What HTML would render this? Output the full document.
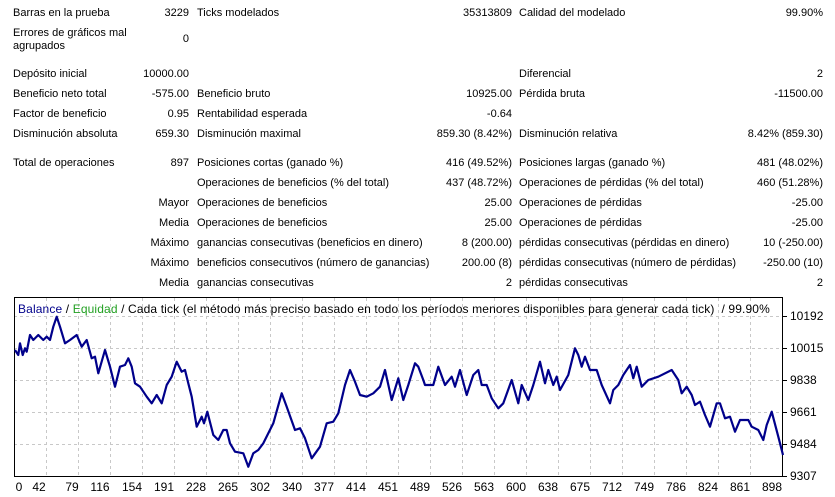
<!DOCTYPE html>
<html><head><meta charset="utf-8"><style>
body{margin:0;width:835px;height:497px;background:#fff;overflow:hidden;font-family:"Liberation Sans",sans-serif;font-size:11px;color:#000;position:relative}
.t{position:absolute;white-space:nowrap;line-height:13px}
.r{text-align:right}
</style></head><body>
<div class="t" style="left:13px;top:7px">Barras en la prueba</div>
<div class="t r" style="right:646px;top:7px">3229</div>
<div class="t" style="left:197px;top:7px">Ticks modelados</div>
<div class="t r" style="right:323px;top:7px">35313809</div>
<div class="t" style="left:519px;top:7px">Calidad del modelado</div>
<div class="t r" style="right:12px;top:7px">99.90%</div>

<div class="t" style="left:13px;top:27px">Errores de gráficos mal<br>agrupados</div>
<div class="t r" style="right:646px;top:33px">0</div>

<div class="t" style="left:13px;top:68px">Depósito inicial</div>
<div class="t r" style="right:646px;top:68px">10000.00</div>
<div class="t" style="left:519px;top:68px">Diferencial</div>
<div class="t r" style="right:12px;top:68px">2</div>

<div class="t" style="left:13px;top:88px">Beneficio neto total</div>
<div class="t r" style="right:646px;top:88px">-575.00</div>
<div class="t" style="left:197px;top:88px">Beneficio bruto</div>
<div class="t r" style="right:323px;top:88px">10925.00</div>
<div class="t" style="left:519px;top:88px">Pérdida bruta</div>
<div class="t r" style="right:12px;top:88px">-11500.00</div>

<div class="t" style="left:13px;top:108px">Factor de beneficio</div>
<div class="t r" style="right:646px;top:108px">0.95</div>
<div class="t" style="left:197px;top:108px">Rentabilidad esperada</div>
<div class="t r" style="right:323px;top:108px">-0.64</div>

<div class="t" style="left:13px;top:128px">Disminución absoluta</div>
<div class="t r" style="right:646px;top:128px">659.30</div>
<div class="t" style="left:197px;top:128px">Disminución maximal</div>
<div class="t r" style="right:323px;top:128px">859.30 (8.42%)</div>
<div class="t" style="left:519px;top:128px">Disminución relativa</div>
<div class="t r" style="right:12px;top:128px">8.42% (859.30)</div>

<div class="t" style="left:13px;top:157px">Total de operaciones</div>
<div class="t r" style="right:646px;top:157px">897</div>
<div class="t" style="left:197px;top:157px">Posiciones cortas (ganado %)</div>
<div class="t r" style="right:323px;top:157px">416 (49.52%)</div>
<div class="t" style="left:519px;top:157px">Posiciones largas (ganado %)</div>
<div class="t r" style="right:12px;top:157px">481 (48.02%)</div>

<div class="t" style="left:197px;top:177px">Operaciones de beneficios (% del total)</div>
<div class="t r" style="right:323px;top:177px">437 (48.72%)</div>
<div class="t" style="left:519px;top:177px">Operaciones de pérdidas (% del total)</div>
<div class="t r" style="right:12px;top:177px">460 (51.28%)</div>

<div class="t r" style="right:646px;top:197px">Mayor</div>
<div class="t" style="left:197px;top:197px">Operaciones de beneficios</div>
<div class="t r" style="right:323px;top:197px">25.00</div>
<div class="t" style="left:519px;top:197px">Operaciones de pérdidas</div>
<div class="t r" style="right:12px;top:197px">-25.00</div>

<div class="t r" style="right:646px;top:217px">Media</div>
<div class="t" style="left:197px;top:217px">Operaciones de beneficios</div>
<div class="t r" style="right:323px;top:217px">25.00</div>
<div class="t" style="left:519px;top:217px">Operaciones de pérdidas</div>
<div class="t r" style="right:12px;top:217px">-25.00</div>

<div class="t r" style="right:646px;top:237px">Máximo</div>
<div class="t" style="left:197px;top:237px">ganancias consecutivas (beneficios en dinero)</div>
<div class="t r" style="right:323px;top:237px">8 (200.00)</div>
<div class="t" style="left:519px;top:237px">pérdidas consecutivas (pérdidas en dinero)</div>
<div class="t r" style="right:12px;top:237px">10 (-250.00)</div>

<div class="t r" style="right:646px;top:257px">Máximo</div>
<div class="t" style="left:197px;top:257px">beneficios consecutivos (número de ganancias)</div>
<div class="t r" style="right:323px;top:257px">200.00 (8)</div>
<div class="t" style="left:519px;top:257px">pérdidas consecutivas (número de pérdidas)</div>
<div class="t r" style="right:12px;top:257px">-250.00 (10)</div>

<div class="t r" style="right:646px;top:277px">Media</div>
<div class="t" style="left:197px;top:277px">ganancias consecutivas</div>
<div class="t r" style="right:323px;top:277px">2</div>
<div class="t" style="left:519px;top:277px">pérdidas consecutivas</div>
<div class="t r" style="right:12px;top:277px">2</div>

<svg style="position:absolute;left:0;top:0" width="835" height="497">
<g stroke="#c8c8c8" stroke-dasharray="3,3" stroke-width="1">
<line x1="14" y1="316.5" x2="783" y2="316.5"/><line x1="14" y1="348.5" x2="783" y2="348.5"/><line x1="14" y1="380.5" x2="783" y2="380.5"/><line x1="14" y1="412.5" x2="783" y2="412.5"/><line x1="14" y1="444.5" x2="783" y2="444.5"/>
<line x1="46.5" y1="298" x2="46.5" y2="477"/><line x1="78.5" y1="298" x2="78.5" y2="477"/><line x1="110.5" y1="298" x2="110.5" y2="477"/><line x1="142.5" y1="298" x2="142.5" y2="477"/><line x1="174.5" y1="298" x2="174.5" y2="477"/><line x1="206.5" y1="298" x2="206.5" y2="477"/><line x1="238.5" y1="298" x2="238.5" y2="477"/><line x1="270.5" y1="298" x2="270.5" y2="477"/><line x1="302.5" y1="298" x2="302.5" y2="477"/><line x1="334.5" y1="298" x2="334.5" y2="477"/><line x1="366.5" y1="298" x2="366.5" y2="477"/><line x1="398.5" y1="298" x2="398.5" y2="477"/><line x1="430.5" y1="298" x2="430.5" y2="477"/><line x1="462.5" y1="298" x2="462.5" y2="477"/><line x1="494.5" y1="298" x2="494.5" y2="477"/><line x1="526.5" y1="298" x2="526.5" y2="477"/><line x1="558.5" y1="298" x2="558.5" y2="477"/><line x1="590.5" y1="298" x2="590.5" y2="477"/><line x1="622.5" y1="298" x2="622.5" y2="477"/><line x1="654.5" y1="298" x2="654.5" y2="477"/><line x1="686.5" y1="298" x2="686.5" y2="477"/><line x1="718.5" y1="298" x2="718.5" y2="477"/><line x1="750.5" y1="298" x2="750.5" y2="477"/>
</g>
<rect x="14.5" y="297.5" width="768" height="179" fill="none" stroke="#000"/>
<g stroke="#000"><line x1="783" y1="316.5" x2="787" y2="316.5"/><line x1="783" y1="348.5" x2="787" y2="348.5"/><line x1="783" y1="380.5" x2="787" y2="380.5"/><line x1="783" y1="412.5" x2="787" y2="412.5"/><line x1="783" y1="444.5" x2="787" y2="444.5"/><line x1="783" y1="476.5" x2="787" y2="476.5"/></g>
<polyline fill="none" stroke="#00008b" stroke-width="2.2" stroke-linejoin="round" points="15,350 18.3,355 20,343.3 22.7,355 25,348.3 26.7,351.7 30,335 33.3,340 38.3,335 43.3,340 46.7,336.7 50,340 53.3,326.7 56.7,316.7 60,326.7 65,343.3 70,340 76.7,335 81.7,346.7 86.7,340 91.7,358.3 95,356.7 98.3,373.3 105,350 110,366.7 115,386.7 120,366.7 125,365 128.3,358.3 131.7,366.7 135,383.3 140,386.7 146.7,396.7 151.7,403.3 156.7,395 161.7,403.3 166.7,385 171.7,376.7 176.7,361.7 181.7,371.7 185,370 188.3,383.3 191.7,396.7 196.7,426.7 201.7,416.7 204,423.3 207.3,411.7 213.3,435 218.3,440 223.3,430 226.7,430 230,443.3 235,451.7 243.3,453.3 248.3,466.7 253.3,453.3 258.3,450 263.3,443.3 273.3,423.3 281.7,393.3 286.7,406.7 295,430 300,428.3 305,438.3 311.7,458.3 320,446.7 326.7,423.3 333.3,421.7 338.3,413.3 345,385 350,370 355,381.7 360,395 366.7,396.7 373.3,393.3 380,386.7 385,370 391.7,400 398.3,378.3 403.3,400 408.3,385 415,363.3 418.3,366.7 423.3,380 425,385 433.3,385 438.3,366.7 445,385 451.7,376.7 455,386.7 460,370 466.7,395 473.3,375 478.3,370 481.7,385 486.7,385 491.7,398.3 498.3,408.3 503.3,403.3 511.7,380 518.3,403.3 521.7,385 528.3,400 533.3,385 540,361.7 545,383.3 548.3,370 553.3,385 556.7,376.7 560,390 568.3,375 575,348.3 578.3,355 581.7,366.7 585,356.7 590,370 596.7,370 601.7,385 610,403.3 613.3,390 618.3,385 623.3,375 630,365 633.3,378.3 636.7,366.7 641.7,386.7 648.3,380 658.3,376.7 671.7,370 678.3,380 681.7,393.3 686.7,386.7 691.7,395 695,405 700,401.7 705,415 710,426.7 716.7,403.3 720,403.3 725,418.3 730,416.7 735,431.7 740,420 748.3,420 751.7,426.7 758.3,430 763.3,440 766.7,425 771.7,411.7 778.3,436.7 783,455"/>
<g font-family="Liberation Sans, sans-serif" font-size="12" fill="#000">
<text x="790" y="320">10192</text><text x="790" y="352">10015</text><text x="790" y="384">9838</text><text x="790" y="416">9661</text><text x="790" y="448">9484</text><text x="790" y="480">9307</text>
</g>
<g font-family="Liberation Sans, sans-serif" font-size="12" fill="#000" text-anchor="middle">
<text x="19" y="491">0</text><text x="39" y="491">42</text><text x="72" y="491">79</text><text x="100" y="491">116</text><text x="132" y="491">154</text><text x="164" y="491">191</text><text x="196" y="491">228</text><text x="228" y="491">265</text><text x="260" y="491">302</text><text x="292" y="491">340</text><text x="324" y="491">377</text><text x="356" y="491">414</text><text x="388" y="491">451</text><text x="420" y="491">489</text><text x="452" y="491">526</text><text x="484" y="491">563</text><text x="516" y="491">600</text><text x="548" y="491">638</text><text x="580" y="491">675</text><text x="612" y="491">712</text><text x="644" y="491">749</text><text x="676" y="491">786</text><text x="708" y="491">824</text><text x="740" y="491">861</text><text x="772" y="491">898</text>
</g>
<text x="18" y="313" font-family="Liberation Sans, sans-serif" font-size="12" letter-spacing="0.13" xml:space="preserve"><tspan fill="#00008b">Balance</tspan><tspan fill="#000"> / </tspan><tspan fill="#22a022">Equidad</tspan><tspan fill="#000"> / Cada tick (el método más preciso basado en todo los períodos menores disponibles para generar cada tick)  / 99.90%</tspan></text>
</svg>
</body></html>
